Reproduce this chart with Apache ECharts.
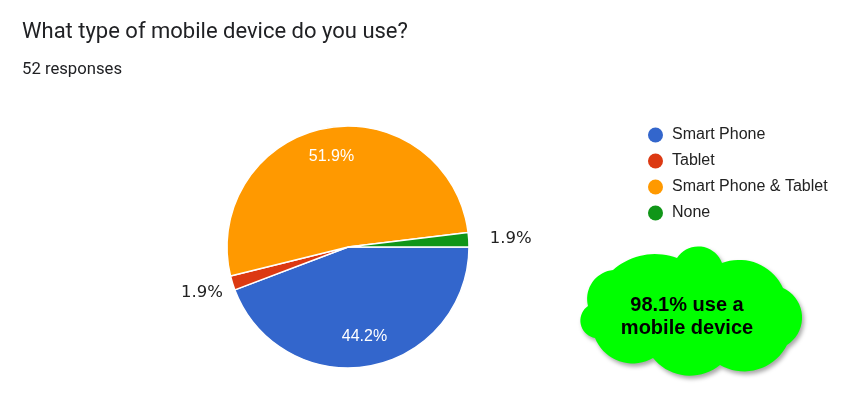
<!DOCTYPE html>
<html>
<head>
<meta charset="utf-8">
<script src="https://cdn.jsdelivr.net/npm/echarts@6/dist/echarts.min.js"></script>
<style>
  html, body { margin: 0; padding: 0; background: #ffffff; }
  #chart { width: 857px; height: 408px; }
</style>
</head>
<body>
<div id="chart"></div>
<script>
// ---- data ----
const questionTitle = 'What type of mobile device do you use?';
const categories = ['Smart Phone', 'Tablet', 'Smart Phone & Tablet', 'None'];
const counts = [23, 1, 27, 1];
const colors = ['#3366cc', '#dc3912', '#ff9900', '#109618'];
const labelInside = [true, false, true, false];
const calloutText = ['use a', 'mobile device'];

// ---- derived ----
const total = counts.reduce((a, b) => a + b, 0);
const pct = v => (v / total * 100).toFixed(1);
const noneIndex = categories.indexOf('None');
const mobilePct = ((total - counts[noneIndex]) / total * 100).toFixed(1);

const CENTER = [348, 247];
const R = 121;

// outside label placement (style only)
const outsideLabelStyle = {
  1: { len: 33, dist: -22 },
  3: { len: 8, dist: 13 }
};

const mainData = categories.map((name, i) => {
  const item = { name, value: counts[i], itemStyle: { color: colors[i] } };
  if (labelInside[i]) {
    item.label = { show: false };
  } else {
    const s = outsideLabelStyle[i];
    item.label = {
      show: true, position: 'outside', distanceToLabelLine: s.dist,
      color: '#222', fontFamily: 'DejaVu Sans', fontSize: 16.5,
      padding: [5, 0, 0, 0]
    };
    item.labelLine = { show: false, length: s.len, length2: 0 };
  }
  return item;
});

const overlayData = categories.map((name, i) => ({
  name, value: counts[i],
  label: { show: labelInside[i] }
}));

// cloud outline (decoration only)
function cloudPoints() {
  const valleys = [
    [595, 338], [588, 306], [613, 270], [677, 258], [722, 263],
    [783, 288], [787, 345], [720, 365], [653, 358]
  ];
  const sag = [11, 10, 9, 14, 13, 17, 15, 14, 14];
  const N = 18;
  const pts = [];
  for (let v = 0; v < valleys.length; v++) {
    const A = valleys[v], B = valleys[(v + 1) % valleys.length];
    const dx = B[0] - A[0], dy = B[1] - A[1];
    const c = Math.hypot(dx, dy);
    const s = sag[v];
    const rr = (c * c / 4 + s * s) / (2 * s);
    const h = rr - s;
    const nx = dy / c, ny = -dx / c;
    const mx = (A[0] + B[0]) / 2, my = (A[1] + B[1]) / 2;
    const cx = mx - nx * h, cy = my - ny * h;
    const a0 = Math.atan2(A[1] - cy, A[0] - cx);
    const a1 = Math.atan2(B[1] - cy, B[0] - cx);
    let d = a1 - a0;
    while (d > Math.PI) d -= 2 * Math.PI;
    while (d < -Math.PI) d += 2 * Math.PI;
    for (let j = 0; j < N; j++) {
      const a = a0 + d * j / N;
      pts.push([cx + rr * Math.cos(a), cy + rr * Math.sin(a)]);
    }
  }
  return pts;
}

const chart = echarts.init(document.getElementById('chart'), null, { renderer: 'canvas' });

const option = {
  backgroundColor: '#ffffff',
  animation: false,
  title: [
    {
      text: questionTitle, left: 22, top: 21, padding: 0,
      textStyle: { fontFamily: 'Roboto', fontSize: 22, fontWeight: 'normal', color: '#202124' }
    },
    {
      text: total + ' responses', left: 22, top: 61, padding: 0,
      textStyle: { fontFamily: 'Roboto', fontSize: 16.7, fontWeight: 'normal', color: '#202124' }
    }
  ],
  legend: {
    orient: 'vertical',
    left: 648, top: 127,
    padding: 0,
    itemWidth: 15, itemHeight: 15, itemGap: 10,
    icon: 'circle',
    itemStyle: { borderWidth: 0 },
    data: categories,
    selectedMode: false,
    textStyle: { fontFamily: 'Liberation Sans', fontSize: 16, color: '#222', padding: [0, 0, 0, 4] }
  },
  series: [
    {
      type: 'pie',
      center: CENTER,
      radius: R,
      startAngle: 0,
      clockwise: true,
      avoidLabelOverlap: false,
      silent: true,
      emphasis: { disabled: true },
      itemStyle: { borderColor: '#ffffff', borderWidth: 1.5 },
      label: {
        formatter: p => pct(p.value) + '%'
      },
      data: mainData
    },
    {
      type: 'pie',
      center: CENTER,
      radius: [0, 177],
      startAngle: 0,
      clockwise: true,
      avoidLabelOverlap: false,
      silent: true,
      z: 5,
      emphasis: { disabled: true },
      itemStyle: { color: 'rgba(0,0,0,0)', borderWidth: 0 },
      labelLine: { show: false },
      label: {
        position: 'inside',
        color: '#ffffff',
        fontFamily: 'Liberation Sans',
        fontSize: 16,
        formatter: p => pct(p.value) + '%'
      },
      data: overlayData
    }
  ],
  graphic: [
    {
      type: 'polygon',
      shape: { points: cloudPoints(), smooth: 0 },
      style: {
        fill: '#00ff00',
        shadowBlur: 4, shadowOffsetX: 2, shadowOffsetY: 3,
        shadowColor: 'rgba(0,0,0,0.35)'
      },
      z: 10
    },
    {
      type: 'text',
      x: 687, y: 317,
      style: {
        text: mobilePct + '% ' + calloutText[0] + '\n' + calloutText[1],
        fill: '#000000',
        font: 'bold 20px "Liberation Sans", Arial, sans-serif',
        textAlign: 'center',
        textVerticalAlign: 'middle',
        lineHeight: 23
      },
      z: 11
    }
  ]
};

chart.setOption(option);
</script>
</body>
</html>
